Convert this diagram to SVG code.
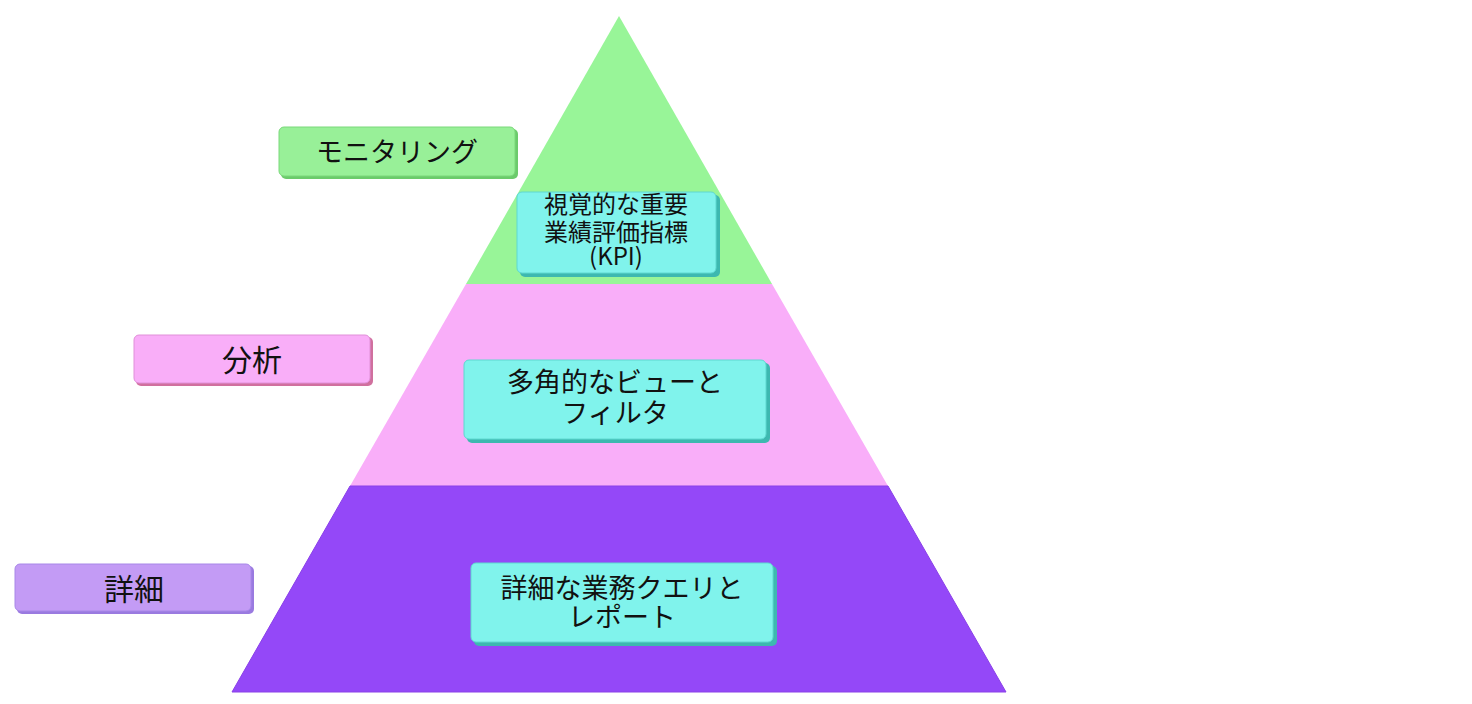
<svg xmlns="http://www.w3.org/2000/svg" width="1472" height="704" viewBox="0 0 1472 704">
<style>
text{font-family:"Noto Sans CJK JP","Noto Sans",sans-serif;fill:#111;text-anchor:middle;font-weight:400}
.lab{font-size:27px}
.lab2{font-size:30px}
.kpi{font-size:24px}
.in{font-size:27px}
.box{fill:#80F3EC;stroke:#5ED8D0;stroke-width:1}
.boxsh{fill:#3DB8B0}
</style>
<rect width="1472" height="704" fill="#FFFFFF"/>
<g id="pyramid">
<polygon points="619,16 466,284 772,284" fill="#98F598"/>
<polygon points="466,284 772,284 888,486 350,486" fill="#F9AEF9"/>
<polygon points="350,486 888,486 1006,692 232,692" fill="#9448F8" stroke="#8A40E8" stroke-width="1"/>
</g>
<g id="label-monitoring">
<rect x="281" y="129" width="237" height="50" rx="5" fill="#6BCB6B"/>
<rect x="279" y="127" width="236" height="49" rx="5" fill="#98F098" stroke="#7AD87A"/>
<text class="lab" x="397" y="162">モニタリング</text>
</g>
<g id="label-analysis">
<rect x="136" y="337" width="237" height="49" rx="5" fill="#D0709E"/>
<rect x="134" y="335" width="236" height="48" rx="5" fill="#F9AEF8" stroke="#E090D8"/>
<text class="lab2" x="252" y="371">分析</text>
</g>
<g id="label-detail">
<rect x="17" y="566" width="237" height="48" rx="5" fill="#9A7AE0"/>
<rect x="15" y="564" width="236" height="47" rx="5" fill="#C39BF5" stroke="#A888E8"/>
<text class="lab2" x="134" y="600">詳細</text>
</g>
<g id="node-kpi">
<rect class="boxsh" x="520" y="195" width="200" height="82" rx="5"/>
<rect class="box" x="517" y="192" width="199" height="81" rx="5"/>
<text class="kpi" x="616" y="213">視覚的な重要</text>
<text class="kpi" x="616" y="241">業績評価指標</text>
<text class="kpi" x="616" y="265">(KPI)</text>
</g>
<g id="node-multi">
<rect class="boxsh" x="467" y="363" width="303" height="80" rx="5"/>
<rect class="box" x="464" y="360" width="302" height="79" rx="5"/>
<text class="in" x="615" y="392">多角的なビューと</text>
<text class="in" x="615" y="423">フィルタ</text>
</g>
<g id="node-detail">
<rect class="boxsh" x="474" y="566" width="303" height="80" rx="5"/>
<rect class="box" x="471" y="563" width="302" height="79" rx="5"/>
<text class="in" x="622" y="598">詳細な業務クエリと</text>
<text class="in" x="622" y="627">レポート</text>
</g>
<g id="connectors"></g>
</svg>
